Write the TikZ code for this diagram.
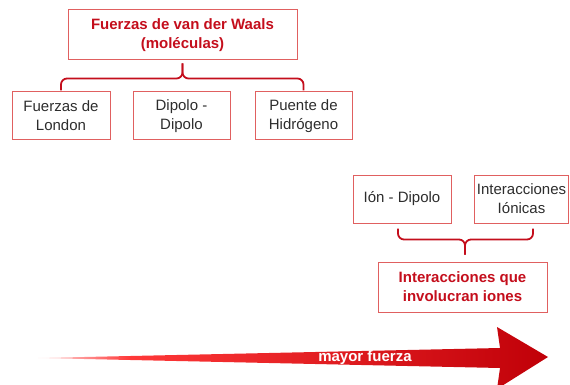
\documentclass[tikz,border=0pt]{standalone}
\usepackage{fontspec}
\setmainfont{Liberation Sans}
\definecolor{titlered}{RGB}{196,14,28}
\definecolor{boxred}{RGB}{224,96,96}
\definecolor{textgray}{RGB}{45,45,45}
\definecolor{arrowred}{RGB}{192,0,8}
\pgfdeclarehorizontalshading{fuerzashade}{100bp}{color(0bp)=(red!8);
  color(25bp)=(red!8); color(34bp)=(red!78!white); color(75bp)=(arrowred);
  color(100bp)=(arrowred)}

\begin{document}
\begin{tikzpicture}[x=1pt, y=-1pt,
  every node/.style = {shape=rectangle, draw=boxred, line width=1pt,
    align=center, inner sep=2pt, text=textgray,
    font=\fontsize{15}{19}\selectfont},
  titlebox/.style = {text=titlered, font=\fontsize{15}{19}\selectfont\bfseries},
  bracket/.style = {draw=titlered, line width=1.8pt, rounded corners=6pt}]
  \useasboundingbox (0,0) rectangle (570,385);
  \node[titlebox, minimum width=229pt, minimum height=50pt] (waals) at (182.5,35)
    {Fuerzas de van der Waals\\(moléculas)};
  \node[minimum width=98pt, minimum height=48pt] (london) at (61,116) {Fuerzas de\\London};
  \node[minimum width=97pt, minimum height=48pt] (dipolo) at (181.5,116) {Dipolo -\\Dipolo};
  \node[minimum width=97pt, minimum height=48pt] (hidro) at (303.5,116) {Puente de\\Hidrógeno};
  \coordinate (wtip) at ([yshift=-3pt]waals.south);
  \coordinate (wmid) at ([yshift=-18pt]waals.south);
  \draw[bracket] ([yshift=1pt]london.north) |- (wmid) -- (wtip);
  \draw[bracket] ([yshift=1pt]hidro.north) |- (wmid) -- (wtip);
  \node[minimum width=98pt, minimum height=48pt] (ion) at (402,199) {Ión - Dipolo};
  \node[minimum width=93pt, minimum height=48pt] (ionicas) at (521.5,199) {Interacciones\\Iónicas};
  \node[titlebox, minimum width=169pt, minimum height=50pt] (iones) at (462.5,287)
    {Interacciones que\\involucran iones};
  \coordinate (itip) at ([xshift=2.5pt,yshift=7pt]iones.north);
  \coordinate (imid) at ([xshift=2.5pt,yshift=22pt]iones.north);
  \draw[bracket] ([xshift=-4pt,yshift=-5pt]ion.south) |- (imid) -- (itip);
  \draw[bracket] ([xshift=11.5pt,yshift=-5pt]ionicas.south) |- (imid) -- (itip);
  \shade[shading=fuerzashade]
    (38,358) -- (500,348) -- (497,327) -- (548,357) -- (497,389) -- (500,368) -- cycle;
  \node[draw=none, text=white, font=\fontsize{15}{19}\selectfont\bfseries] (fuerza) at (365,358) {mayor fuerza};
\end{tikzpicture}
\end{document}
